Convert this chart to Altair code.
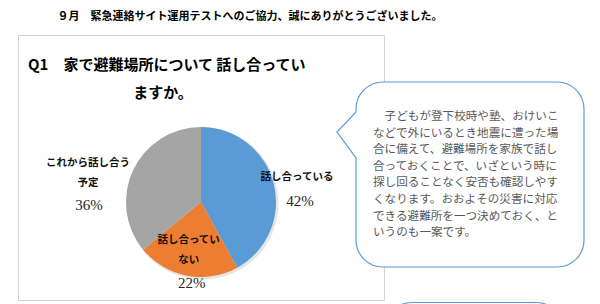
import altair as alt
import pandas as pd

# ---- data ----
categories = ["話し合っている", "話し合っていない", "これから話し合う予定"]
label_lines = ["話し合っている", "話し合ってい\nない", "これから話し合う\n予定"]
values = [42, 22, 36]
pct_labels = ["42%", "22%", "36%"]
order = [1, 2, 3]
colors = ["#5b9bd5", "#ed7d31", "#a5a5a5"]

page_title = "９月　緊急連絡サイト運用テストへのご協力、誠にありがとうございました。"
q_title_1 = "Q1　家で避難場所について 話し合ってい"
q_title_2 = "ますか。"
bubble_lines = [
    "子どもが登下校時や塾、おけいこ",
    "などで外にいるとき地震に遭った場",
    "合に備えて、避難場所を家族で話し",
    "合っておくことで、いざという時に",
    "探し回ることなく安否も確認しやす",
    "くなります。おおよその災害に対応",
    "できる避難所を一つ決めておく、と",
    "いうのも一案です。",
]

df = pd.DataFrame({"category": categories, "label": label_lines,
                   "value": values, "pct": pct_labels, "order": order})
one = pd.DataFrame({"a": [0]})

JP = "Noto Sans CJK JP"
cx, cy, R = 201, 202, 75

theta_scale = alt.Scale(domain=[0, 100], range=[0, 6.283185307179586])
color_scale = alt.Scale(domain=categories, range=colors)

base = alt.Chart(df).transform_stack(
    stack="value", as_=["v0", "v1"], groupby=[],
    sort=[alt.SortField("order", order="ascending")]
).transform_calculate(mid="(datum.v0 + datum.v1) / 2")

# frame
frame = alt.Chart(one).mark_rect(fill="white", stroke="#d6d6d6", strokeWidth=1).encode(
    x=alt.value(18.5), x2=alt.value(384.5), y=alt.value(35.5), y2=alt.value(300.5))

# shadow
shadow = alt.Chart(one).mark_arc(outerRadius=R + 1, theta=0, theta2=6.2832,
                                 color="#000000", opacity=0.10).encode(
    x=alt.value(cx + 1.5), y=alt.value(cy + 1.5))

pie = base.mark_arc(outerRadius=R).encode(
    x=alt.value(cx), y=alt.value(cy),
    theta=alt.Theta("v0:Q", scale=theta_scale),
    theta2="v1:Q",
    color=alt.Color("category:N", scale=color_scale, legend=None),
)

# label offsets (first text line is anchored at the position)
label_style = {
    "話し合っている": dict(r=99, ndx=0, ndy=0, pdx=3, pdy=24),
    "話し合っていない": dict(r=50, ndx=-3, ndy=-11, pdx=0, pdy=32),
    "これから話し合う予定": dict(r=116, ndx=-8, ndy=10, pdx=-7, pdy=52),
}

label_layers = []
for cat, s in label_style.items():
    sel = base.transform_filter(alt.datum.category == cat)
    name = sel.mark_text(font=JP, fontSize=10.5, fontWeight="bold", color="#111111",
                         lineBreak="\n", lineHeight=20, align="center", baseline="middle",
                         radius=s["r"], dx=s["ndx"], dy=s["ndy"]).encode(
        x=alt.value(cx), y=alt.value(cy),
        theta=alt.Theta("mid:Q", scale=theta_scale), text="label:N")
    pct = sel.mark_text(font="Liberation Serif", fontSize=15, color="#262626",
                        align="center", baseline="middle",
                        radius=s["r"], dx=s["pdx"], dy=s["pdy"]).encode(
        x=alt.value(cx), y=alt.value(cy),
        theta=alt.Theta("mid:Q", scale=theta_scale), text="pct:N")
    label_layers += [name, pct]

# titles
t_page = alt.Chart(one).mark_text(text=page_title, font=JP, fontSize=11, fontWeight="bold",
                                  color="#000000", align="center", baseline="middle").encode(
    x=alt.value(250), y=alt.value(17))
t_q1 = alt.Chart(one).mark_text(text=q_title_1, font=JP, fontSize=15, fontWeight="bold",
                                color="#000000", align="left", baseline="middle").encode(
    x=alt.value(28), y=alt.value(65))
t_q2 = alt.Chart(one).mark_text(text=q_title_2, font=JP, fontSize=15, fontWeight="bold",
                                color="#000000", align="center", baseline="middle").encode(
    x=alt.value(163), y=alt.value(93))

# speech bubble
bubble_path = ("M 383 82 L 557 82 C 572 82 584 94 584 109 L 584 240 "
               "C 584 255 572 267 557 267 L 383 267 C 368 267 356 255 356 240 "
               "L 356 158 L 337 132 L 356 112 L 356 109 C 356 94 368 82 383 82 Z")
bubble = alt.Chart(one).mark_point(shape=bubble_path, size=4, filled=True, fill="white",
                                   stroke="#5b9bd5", strokeWidth=1.2, opacity=1,
                                   fillOpacity=1, strokeOpacity=1).encode(
    x=alt.value(0), y=alt.value(0))
bubble2_path = ("M 412 302.5 L 536 302.5 C 551 302.5 563 314 563 330 L 563 360 "
                "L 385 360 L 385 330 C 385 314 397 302.5 412 302.5 Z")
bubble2 = alt.Chart(one).mark_point(shape=bubble2_path, size=4, filled=True, fill="white",
                                    stroke="#5b9bd5", strokeWidth=1.2, opacity=1,
                                    fillOpacity=1, strokeOpacity=1).encode(
    x=alt.value(0), y=alt.value(0))

text_layers = []
for i, line in enumerate(bubble_lines):
    indent = 11.6 if i == 0 else 0
    text_layers.append(
        alt.Chart(one).mark_text(text=line, font=JP, fontSize=11.6, color="#595959",
                                 align="left", baseline="middle", dx=indent).encode(
            x=alt.value(373), y=alt.value(117 + i * 16.6)))

chart = alt.layer(
    frame, t_page, t_q1, t_q2, shadow, pie, *label_layers, bubble, bubble2, *text_layers
).properties(width=600, height=304, padding=0, autosize="none", background="white"
).configure_view(strokeWidth=0)

chart.save("out.html", embed_options={"renderer": "svg", "actions": False})
